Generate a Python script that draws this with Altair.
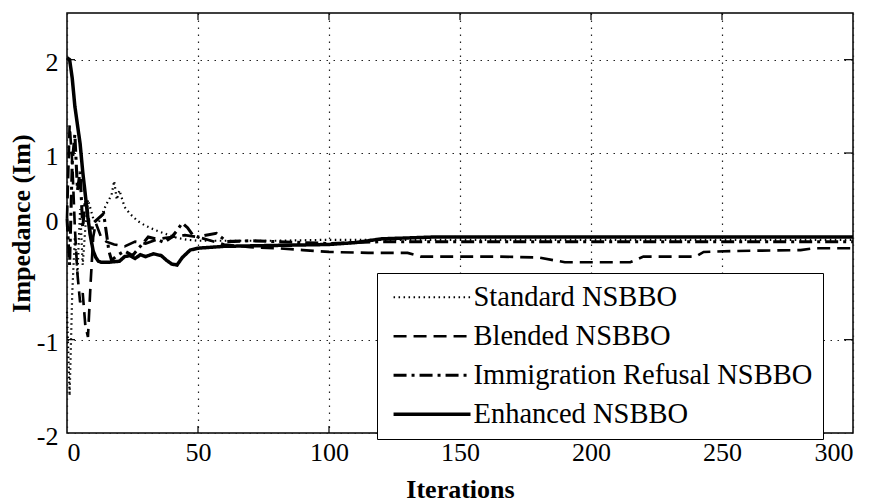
import altair as alt
import pandas as pd

# ---- data ----
series_names = ["Standard NSBBO", "Blended NSBBO", "Immigration Refusal NSBBO", "Enhanced NSBBO"]

std_x = [0, 1, 2, 3, 4, 5, 6, 7, 8, 10, 12, 15, 17, 18, 19, 20, 22, 24, 27, 30, 34, 38, 42, 46, 50, 60, 80, 100, 150, 200, 250, 300]
std_y = [-0.7, -1.6, -0.5, 0.1, -0.3, 0.4, -0.2, 0.2, 0.5, 0.3, 0.25, 0.45, 0.55, 0.7, 0.5, 0.6, 0.42, 0.35, 0.27, 0.22, 0.17, 0.13, 0.09, 0.07, 0.06, 0.06, 0.06, 0.07, 0.07, 0.07, 0.07, 0.07]

bld_x = [0, 1, 2, 3, 4, 5, 6, 7, 8, 9, 10, 11, 13, 15, 18, 22, 26, 30, 35, 40, 45, 50, 55, 60, 70, 80, 90, 100, 115, 130, 135, 165, 180, 190, 215, 220, 240, 243, 255, 280, 285, 300]
bld_y = [0.3, 1.3, 0.9, 0.2, -0.3, -0.6, -0.5, -0.85, -0.97, -0.4, 0.1, 0.25, 0.1, 0.05, 0.02, 0.0, 0.05, 0.03, 0.08, 0.1, 0.12, 0.1, 0.06, 0.02, -0.01, -0.02, -0.04, -0.06, -0.07, -0.07, -0.11, -0.11, -0.12, -0.17, -0.17, -0.11, -0.11, -0.06, -0.05, -0.04, -0.02, -0.02]

imm_x = [0, 1, 2, 3, 4, 5, 6, 7, 8, 9, 10, 12, 14, 16, 17, 19, 22, 25, 28, 31, 34, 37, 40, 42, 44, 46, 48, 50, 53, 57, 61, 70, 80, 90, 100, 120, 150, 200, 250, 300]
imm_y = [0.3, -0.2, 0.9, 1.2, 0.6, 0.8, 0.2, 0.5, 0.35, 0.1, 0.25, 0.3, 0.35, -0.05, -0.15, -0.1, -0.05, -0.1, 0.0, 0.1, 0.08, 0.04, 0.1, 0.17, 0.25, 0.2, 0.12, 0.1, 0.12, 0.14, 0.05, 0.06, 0.05, 0.04, 0.03, 0.05, 0.05, 0.05, 0.05, 0.05]

enh_x = [0, 1, 2, 3, 4, 5, 6, 7, 8, 9, 10, 11, 12, 13, 16, 20, 22, 24, 26, 28, 30, 33, 36, 38, 40, 42, 44, 47, 50, 55, 60, 80, 100, 110, 120, 130, 140, 160, 200, 250, 280, 300]
enh_y = [2.02, 2.0, 1.8, 1.5, 1.3, 1.1, 0.8, 0.55, 0.3, 0.1, -0.05, -0.12, -0.16, -0.17, -0.17, -0.16, -0.11, -0.1, -0.13, -0.09, -0.11, -0.08, -0.1, -0.15, -0.19, -0.2, -0.12, -0.04, -0.02, -0.01, 0.0, 0.01, 0.02, 0.04, 0.08, 0.09, 0.1, 0.1, 0.1, 0.1, 0.1, 0.1]

x_ticks = [0, 50, 100, 150, 200, 250, 300]
y_ticks = [2, 1, 0.3, -1, -2]
x_inner_ticks = [50, 100, 150, 200, 250]
y_inner_ticks = [2, 1, -1]

frames = []
for name, xs, ys in zip(series_names, [std_x, bld_x, imm_x, enh_x], [std_y, bld_y, imm_y, enh_y]):
    frames.append(pd.DataFrame({"Iteration": xs, "Impedance": ys, "Method": name}))
df = pd.concat(frames, ignore_index=True)
df["order"] = range(len(df))

xt_df = pd.DataFrame({"Iteration": x_inner_ticks})
yt_df = pd.DataFrame({"Impedance": y_inner_ticks})

FONT = "Liberation Serif"
W, H = 786, 420
TL = 7  # inward tick length (px)

xscale = alt.Scale(domain=[0, 300], nice=False, zero=False)
yscale = alt.Scale(domain=[-2, 2.5], nice=False, zero=False)

x_axis = alt.Axis(values=x_ticks, title="Iterations", labelPadding=6,
                  titleBaseline="alphabetic", titleY=64)
y_axis = alt.Axis(values=y_ticks, title="Impedance  (Im)",
                  labelExpr="datum.value == 0.3 ? '0' : '' + datum.value",
                  labelPadding=9, labelOffset=3, titlePadding=2,
                  gridOpacity={"condition": {"test": "datum.value == 0.3", "value": 0}, "value": 1})

lines = alt.Chart(df).mark_line(color="black", strokeCap="butt").encode(
    x=alt.X("Iteration:Q", scale=xscale, axis=x_axis),
    y=alt.Y("Impedance:Q", scale=yscale, axis=y_axis),
    strokeDash=alt.StrokeDash("Method:N",
                              scale=alt.Scale(domain=series_names,
                                              range=[[1.5, 3.5], [13, 7], [13, 5, 3, 5], [1, 0]]),
                              legend=alt.Legend(title=None, orient="none", legendX=310, legendY=260)),
    strokeWidth=alt.StrokeWidth("Method:N",
                                scale=alt.Scale(domain=series_names, range=[2.2, 3.5, 3.5, 4]),
                                legend=None),
    order="order:Q",
)

tick_bottom = alt.Chart(xt_df).mark_rule(color="black", strokeWidth=1.2).encode(
    x=alt.X("Iteration:Q", scale=xscale, axis=x_axis),
    y=alt.value(H), y2=alt.value(H - TL))
tick_top = alt.Chart(xt_df).mark_rule(color="black", strokeWidth=1.2).encode(
    x=alt.X("Iteration:Q", scale=xscale, axis=x_axis),
    y=alt.value(0), y2=alt.value(TL))
tick_left = alt.Chart(yt_df).mark_rule(color="black", strokeWidth=1.2).encode(
    y=alt.Y("Impedance:Q", scale=yscale, axis=y_axis),
    x=alt.value(0), x2=alt.value(TL + 1))
tick_right = alt.Chart(yt_df).mark_rule(color="black", strokeWidth=1.2).encode(
    y=alt.Y("Impedance:Q", scale=yscale, axis=y_axis),
    x=alt.value(W), x2=alt.value(W - TL - 2))

chart = alt.layer(lines, tick_bottom, tick_top, tick_left, tick_right).properties(
    width=W, height=H,
    autosize=alt.AutoSizeParams(type="none"),
    padding={"left": 67, "top": 13, "right": 18, "bottom": 70},
    background="white",
).configure_view(
    stroke="black", strokeWidth=1.5
).configure_axis(
    domain=False, grid=True, gridColor="#222222", gridDash=[1.5, 5.5], gridWidth=1.2,
    tickSize=0, labelFont=FONT, labelFontSize=26, labelColor="black",
    titleFont=FONT, titleFontSize=26, titleFontWeight="bold", titleColor="black",
).configure_legend(
    strokeColor="black", fillColor="white", padding=10, cornerRadius=0,
    labelFont=FONT, labelFontSize=28.5, labelColor="black", labelOffset=58,
    symbolType="M-1,0H9", symbolSize=237, symbolStrokeWidth=3,
    symbolStrokeColor="black", symbolFillColor="transparent",
    rowPadding=10, labelLimit=600,
)

chart.save("out.html", embed_options={"renderer": "svg", "actions": False})
